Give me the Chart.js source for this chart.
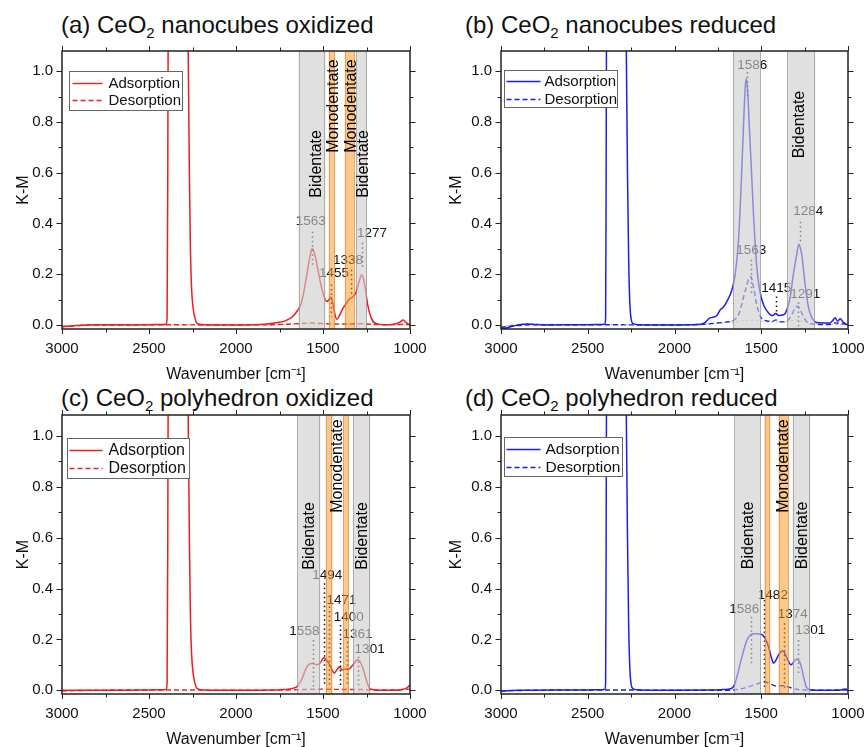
<!DOCTYPE html>
<html><head><meta charset="utf-8">
<script src="https://cdn.jsdelivr.net/npm/chart.js@4.4.1/dist/chart.umd.min.js"></script>
<style>
html,body{margin:0;padding:0;background:#fff;width:866px;height:747px;overflow:hidden;position:relative;font-family:'Liberation Sans',Arial,sans-serif;}
canvas{position:absolute;}
.ttl{position:absolute;font-size:24px;line-height:24px;color:#111;white-space:nowrap;}
.ttl sub{font-size:15px;vertical-align:-5px;line-height:0;}
</style></head><body>
<div class="ttl" style="left:61px;top:13px">(a) CeO<sub>2</sub> nanocubes oxidized</div>
<div class="ttl" style="left:465px;top:13px">(b) CeO<sub>2</sub> nanocubes reduced</div>
<div class="ttl" style="left:61px;top:386px">(c) CeO<sub>2</sub> polyhedron oxidized</div>
<div class="ttl" style="left:465px;top:386px">(d) CeO<sub>2</sub> polyhedron reduced</div>
<canvas id="cA" width="433" height="384" style="left:0;top:0"></canvas>
<canvas id="cB" width="433" height="384" style="left:433px;top:0"></canvas>
<canvas id="cC" width="433" height="385" style="left:0;top:364px"></canvas>
<canvas id="cD" width="433" height="385" style="left:433px;top:364px"></canvas>
<script>
// ---------------- data ----------------
const xMajorTicks = [3000, 2500, 2000, 1500, 1000];
const xMinorTicks = [2750, 2250, 1750, 1250];
const xTickLabels = ['3000', '2500', '2000', '1500', '1000'];
const yMajorTicks = [0, 0.2, 0.4, 0.6, 0.8, 1.0];
const yMinorTicks = [0.1, 0.3, 0.5, 0.7, 0.9];
const yTickLabels = ['0.0', '0.2', '0.4', '0.6', '0.8', '1.0'];
const seriesNames = ['Adsorption', 'Desorption'];

// (a) nanocubes oxidized
const wnA = [3000,2950,2900,2850,2800,2700,2600,2500,2420,2400,2396,2392,2388,2350,2300,2285,2275,2268,2262,2255,2245,2235,2225,2200,2100,2000,1900,1840,1800,1760,1730,1700,1680,1660,1645,1625,1605,1585,1572,1563,1550,1530,1510,1490,1477,1462,1455,1443,1433,1420,1405,1385,1365,1347,1330,1312,1290,1277,1262,1242,1222,1195,1150,1100,1060,1040,1020,1000];
const adsA = [-0.008,-0.004,-0.002,0.000,0.001,0.001,0.000,0.001,0.002,0.004,0.03,0.6,1.6,2.5,2.5,1.6,1.1,0.6,0.3,0.14,0.06,0.025,0.008,0.002,0.000,0.000,0.001,0.003,0.006,0.010,0.013,0.022,0.030,0.044,0.058,0.085,0.150,0.232,0.280,0.300,0.285,0.220,0.152,0.105,0.092,0.104,0.110,0.085,0.046,0.022,0.038,0.066,0.085,0.103,0.110,0.125,0.177,0.198,0.165,0.075,0.026,0.005,0.001,0.002,0.010,0.019,0.008,0.000];
const wnDesA = [3000,2900,2800,2600,2400,2200,2000,1800,1700,1650,1600,1560,1500,1450,1400,1340,1290,1240,1150,1050,1000];
const desA = [-0.006,-0.002,0.000,0.000,0.001,0.000,0.000,0.001,0.003,0.005,0.007,0.008,0.005,0.004,0.003,0.004,0.005,0.003,0.001,0.002,0.001];
const wnBaseA = [3000,2600,2200,1800,1650,1550,1450,1350,1250,1150,1000];
const baseA = [-0.004,0.000,0.001,0.001,0.003,0.004,0.003,0.003,0.004,0.002,0.001];
const bandsA = [[1640,1486],[1467,1431],[1375,1318],[1308,1247]];
const bandTypesA = ['Bidentate','Monodentate','Monodentate','Bidentate'];
const bandTextA = ['Bidentate','Monodentate','Monodentate','Bidentate'];
const peakTextA = ['1563','1455','1338','1277'];

// (b) nanocubes reduced
const wnB = [3000,2970,2940,2900,2850,2800,2700,2600,2500,2420,2400,2397,2394,2390,2350,2300,2287,2278,2271,2264,2257,2249,2238,2200,2100,2000,1900,1845,1820,1800,1780,1757,1736,1719,1700,1669,1650,1631,1617,1602,1592,1586,1578,1570,1560,1545,1526,1506,1487,1458,1438,1415,1400,1371,1352,1333,1314,1294,1284,1275,1265,1246,1227,1208,1180,1103,1085,1074,1060,1044,1030,1000];
const adsB = [-0.016,-0.012,-0.006,0.000,0.004,0.002,0.000,0.001,0.001,0.002,0.004,0.03,0.6,1.6,2.5,2.5,1.6,1.1,0.6,0.25,0.08,0.02,0.005,0.001,0.000,0.000,0.001,0.003,0.012,0.026,0.030,0.036,0.060,0.070,0.090,0.139,0.200,0.335,0.530,0.790,0.940,0.972,0.920,0.800,0.660,0.440,0.230,0.126,0.080,0.047,0.037,0.045,0.037,0.040,0.060,0.112,0.204,0.283,0.318,0.305,0.270,0.152,0.067,0.028,0.010,0.008,0.020,0.028,0.015,0.024,0.012,0.000];
const wnDesB = [3000,2950,2900,2800,2600,2400,2200,2000,1850,1800,1750,1700,1660,1631,1617,1602,1586,1570,1560,1545,1526,1506,1487,1458,1438,1415,1400,1371,1352,1333,1314,1300,1291,1275,1265,1246,1227,1208,1180,1100,1075,1045,1000];
const desB = [-0.010,-0.005,-0.002,0.001,0.000,0.001,0.000,0.000,0.002,0.004,0.008,0.012,0.018,0.040,0.070,0.110,0.150,0.185,0.190,0.150,0.080,0.035,0.020,0.015,0.013,0.020,0.014,0.012,0.015,0.030,0.055,0.070,0.074,0.060,0.045,0.020,0.008,0.004,0.002,0.002,0.008,0.006,0.000];
const wnBaseB = [3000,2950,2900,2850,2800,2600,2400,2200,2000,1850,1750,1700,1650,1600,1550,1500,1450,1400,1350,1300,1250,1200,1100,1000];
const baseB = [-0.006,-0.002,0.002,0.004,0.003,0.002,0.002,0.001,0.001,0.003,0.006,0.009,0.013,0.017,0.019,0.015,0.012,0.012,0.014,0.019,0.012,0.004,0.002,0.001];
const bandsB = [[1663,1502],[1352,1189]];
const bandTypesB = ['Bidentate','Bidentate'];
const bandTextB = ['Bidentate'];
const peakTextB = ['1586','1563','1415','1284','1291'];

// (c) polyhedron oxidized
const wnC = [3000,2900,2800,2600,2500,2420,2400,2396,2392,2388,2350,2300,2285,2275,2268,2262,2255,2245,2235,2225,2200,2100,2000,1900,1800,1750,1700,1670,1650,1624,1596,1575,1558,1538,1515,1500,1494,1481,1461,1448,1436,1420,1404,1393,1376,1351,1328,1301,1274,1251,1232,1210,1150,1100,1050,1020,1010,1000];
const adsC = [0.000,0.000,0.000,0.000,0.001,0.002,0.004,0.03,0.6,1.6,2.5,2.5,1.6,1.1,0.6,0.3,0.14,0.06,0.025,0.008,0.002,0.000,0.000,0.000,0.001,0.002,0.004,0.008,0.014,0.040,0.087,0.104,0.105,0.100,0.108,0.126,0.128,0.120,0.100,0.080,0.067,0.080,0.093,0.080,0.082,0.083,0.100,0.120,0.093,0.040,0.008,0.002,0.000,0.000,0.002,0.008,0.014,0.020];
const wnDesC = [3000,2800,2400,2000,1700,1600,1500,1400,1300,1200,1100,1000];
const desC = [-0.003,0.000,0.001,0.000,0.001,0.003,0.004,0.003,0.003,0.001,0.001,0.004];
const bandsC = [[1649,1515],[1484,1446],[1385,1351],[1328,1228]];
const bandTypesC = ['Bidentate','Monodentate','Monodentate','Bidentate'];
const bandTextC = ['Bidentate','Monodentate','Bidentate'];
const peakTextC = ['1558','1494','1471','1400','1361','1301'];

// (d) polyhedron reduced
const wnD = [3000,2900,2800,2600,2500,2420,2400,2397,2394,2390,2350,2300,2287,2278,2271,2264,2257,2249,2238,2200,2100,2000,1800,1736,1690,1669,1655,1640,1611,1582,1565,1553,1530,1506,1483,1458,1440,1429,1415,1400,1375,1352,1329,1314,1298,1275,1256,1240,1217,1150,1050,1016,1000];
const adsD = [-0.003,0.000,0.000,0.001,0.001,0.002,0.004,0.03,0.6,1.6,2.5,2.5,1.6,1.1,0.6,0.25,0.08,0.02,0.005,0.001,0.000,0.000,0.001,0.002,0.004,0.008,0.020,0.053,0.132,0.198,0.215,0.221,0.222,0.221,0.210,0.171,0.125,0.106,0.118,0.139,0.155,0.126,0.100,0.110,0.122,0.106,0.053,0.012,0.002,0.000,0.000,0.005,0.002];
const wnDesD = [3000,2800,2400,2000,1750,1680,1620,1580,1545,1510,1487,1465,1448,1430,1410,1390,1371,1350,1333,1300,1275,1200,1000];
const desD = [-0.003,0.000,0.001,0.000,0.000,0.000,0.005,0.012,0.020,0.028,0.034,0.030,0.025,0.019,0.016,0.017,0.018,0.014,0.010,0.004,0.001,0.000,0.001];
const bandsD = [[1655,1502],[1481,1448],[1400,1342],[1319,1217]];
const bandTypesD = ['Bidentate','Monodentate','Monodentate','Bidentate'];
const bandTextD = ['Bidentate','Monodentate','Bidentate'];
const peakTextD = ['1586','1482','1374','1301'];

// ---------------- layout / styling ----------------
const FONT = "'Liberation Sans', Arial, sans-serif";
Chart.defaults.font.family = FONT;
Chart.defaults.color = '#111';
const RED = 'rgb(240,28,32)', BLUE = 'rgb(30,30,240)', BASEC = 'rgba(165,205,95,0.85)';

const panels = [
  { id:'cA', L:62, R:410, T:51, B:329, ymin:-0.016, ymax:1.08, color:RED,
    wn:wnA, ads:adsA, wnDes:wnDesA, des:desA, wnBase:wnBaseA, base:baseA,
    bands:bandsA, bandTypes:bandTypesA, bandText:bandTextA,
    bandTextPos:[[1537,0.635],[1441,0.863],[1335,0.863],[1265,0.635]],
    peakText:peakTextA,
    peakPos:[{lx:1563,tx:1571,ty:0.407,top:0.367,bot:0.237},{lx:1452,tx:1437,ty:0.202,top:0.159,bot:0.033},{lx:1341,tx:1356,ty:0.253,top:0.218,bot:0.111},{lx:1276,tx:1218,ty:0.36,top:0.324,bot:0.218}],
    legend:{dx:7,dy:20,w:113,h:39,l1:12,l2:29,s0:3,s1:33,tx:39,fs:15} },
  { id:'cB', L:68, R:415, T:51, B:329, ymin:-0.016, ymax:1.08, color:BLUE,
    wn:wnB, ads:adsB, wnDes:wnDesB, des:desB, wnBase:wnBaseB, base:baseB,
    bands:bandsB, bandTypes:bandTypesB, bandText:bandTextB,
    bandTextPos:[[1279,0.79]],
    peakText:peakTextB,
    peakPos:[{lx:1585,tx:1552,ty:1.024,top:0.997,bot:0.899},{lx:1560,tx:1557,ty:0.296,top:0.257,bot:0.127},{lx:1414,tx:1413,ty:0.145,top:0.112,bot:0.04},{lx:1279,tx:1229,ty:0.447,top:0.407,bot:0.329},{lx:1290,tx:1246,ty:0.122,top:0.088,bot:-0.005}],
    legend:{dx:3,dy:19,w:113,h:37,l1:11,l2:29,s0:2,s1:36,tx:40,fs:15} },
  { id:'cC', L:62, R:410, T:51, B:330, ymin:-0.015, ymax:1.083, color:RED,
    wn:wnC, ads:adsC, wnDes:wnDesC, des:desC, wnBase:null, base:null,
    bands:bandsC, bandTypes:bandTypesC, bandText:bandTextC,
    bandTextPos:[[1577,0.607],[1414,0.882],[1270,0.607]],
    peakText:peakTextC,
    peakPos:[{lx:1557,tx:1607,ty:0.23,top:0.198,bot:0.014},{lx:1494,tx:1476,ty:0.453,top:0.421,bot:0.014},{lx:1466,tx:1394,ty:0.352,top:0.329,bot:0.014},{lx:1400,tx:1352,ty:0.287,top:0.257,bot:0.014},{lx:1361,tx:1302,ty:0.221,top:0.191,bot:0.014},{lx:1299,tx:1232,ty:0.161,top:0.132,bot:0.014}],
    legend:{dx:5,dy:23,w:122,h:40,l1:12,l2:30,s0:2,s1:35,tx:41,fs:16} },
  { id:'cD', L:68, R:415, T:51, B:330, ymin:-0.015, ymax:1.083, color:BLUE,
    wn:wnD, ads:adsD, wnDes:wnDesD, des:desD, wnBase:null, base:null,
    bands:bandsD, bandTypes:bandTypesD, bandText:bandTextD,
    bandTextPos:[[1573,0.609],[1371,0.882],[1260,0.609]],
    peakText:peakTextD,
    peakPos:[{lx:1559,tx:1598,ty:0.32,top:0.289,bot:0.106},{lx:1487,tx:1433,ty:0.375,top:0.355,bot:0.001},{lx:1371,tx:1318,ty:0.3,top:0.263,bot:0.0},{lx:1291,tx:1217,ty:0.234,top:0.198,bot:0.067}],
    legend:{dx:3,dy:22,w:118,h:39,l1:12,l2:30,s0:2,s1:36,tx:41,fs:15.5} }
];

const decor = {
  id: 'decor',
  afterDatasetsDraw(chart, args, o) {
    const p = o.panel; if (!p) return;
    const {ctx, chartArea: ca, scales: {x, y}} = chart;
    ctx.save();
    ctx.beginPath(); ctx.rect(ca.left, ca.top, ca.right - ca.left, ca.bottom - ca.top); ctx.clip();
    // peak markers
    ctx.textAlign = 'center'; ctx.textBaseline = 'middle';
    p.peakText.forEach((t, i) => {
      const q = p.peakPos[i];
      const px = Math.round(x.getPixelForValue(q.lx)) + 0.5;
      ctx.save();
      ctx.setLineDash([1.5, 3]); ctx.lineWidth = 1.5; ctx.strokeStyle = '#111';
      ctx.beginPath(); ctx.moveTo(px, y.getPixelForValue(q.top)); ctx.lineTo(px, y.getPixelForValue(q.bot)); ctx.stroke();
      ctx.restore();
      ctx.font = '13.5px ' + FONT; ctx.fillStyle = '#111';
      ctx.fillText(t, x.getPixelForValue(q.tx), y.getPixelForValue(q.ty));
    });
    // bands (semi-transparent, drawn over curves and labels)
    p.bands.forEach((b, i) => {
      const x1 = x.getPixelForValue(b[0]), x2 = x.getPixelForValue(b[1]);
      const l = Math.min(x1, x2), w = Math.abs(x2 - x1);
      const mono = p.bandTypes[i] === 'Monodentate';
      ctx.fillStyle = mono ? 'rgba(250,155,46,0.55)' : 'rgba(205,205,205,0.62)';
      ctx.fillRect(l, ca.top, w, ca.bottom - ca.top);
      ctx.strokeStyle = mono ? 'rgba(215,125,45,0.55)' : 'rgba(130,130,130,0.55)';
      ctx.lineWidth = 1;
      ctx.beginPath();
      ctx.moveTo(Math.round(l) + 0.5, ca.top); ctx.lineTo(Math.round(l) + 0.5, ca.bottom);
      ctx.moveTo(Math.round(l + w) - 0.5, ca.top); ctx.lineTo(Math.round(l + w) - 0.5, ca.bottom);
      ctx.stroke();
    });
    // band names
    ctx.font = '16px ' + FONT; ctx.fillStyle = '#000';
    p.bandText.forEach((t, i) => {
      const pos = p.bandTextPos[i];
      ctx.save();
      ctx.translate(x.getPixelForValue(pos[0]), y.getPixelForValue(pos[1]));
      ctx.rotate(-Math.PI / 2);
      ctx.fillText(t, 0, 0);
      ctx.restore();
    });
    ctx.restore();

    // frame and ticks on all four sides
    ctx.save();
    ctx.strokeStyle = '#222'; ctx.lineWidth = 1;
    const tick = (x1, y1, x2, y2) => { ctx.beginPath(); ctx.moveTo(x1, y1); ctx.lineTo(x2, y2); ctx.stroke(); };
    xMajorTicks.concat(xMinorTicks).forEach(v => {
      const len = xMajorTicks.includes(v) ? 5 : 3.5;
      const px = Math.round(x.getPixelForValue(v)) + 0.5;
      tick(px, ca.bottom, px, ca.bottom + len);
      tick(px, ca.top, px, ca.top - len);
    });
    yMajorTicks.concat(yMinorTicks).forEach(v => {
      const len = yMajorTicks.includes(v) ? 5.5 : 3.5;
      const py = Math.round(y.getPixelForValue(v)) + 0.5;
      tick(ca.left, py, ca.left - len, py);
      tick(ca.right, py, ca.right + len, py);
    });
    ctx.lineWidth = 1.5;
    ctx.strokeRect(ca.left, ca.top, ca.right - ca.left, ca.bottom - ca.top);
    ctx.restore();

    // legend box
    const lg = p.legend;
    const bx = ca.left + lg.dx + 0.5, by = ca.top + lg.dy + 0.5;
    ctx.save();
    ctx.fillStyle = '#fff'; ctx.fillRect(bx, by, lg.w, lg.h);
    ctx.strokeStyle = '#666'; ctx.lineWidth = 1; ctx.strokeRect(bx, by, lg.w, lg.h);
    ctx.font = lg.fs + 'px ' + FONT; ctx.textAlign = 'left'; ctx.textBaseline = 'middle';
    const rows = [lg.l1, lg.l2];
    chart.data.datasets.filter(d => seriesNames.includes(d.label)).forEach((d, i) => {
      const yy = by + rows[i];
      ctx.strokeStyle = d.borderColor; ctx.lineWidth = 1.4;
      ctx.setLineDash(d.borderDash || []);
      ctx.beginPath(); ctx.moveTo(bx + lg.s0, yy); ctx.lineTo(bx + lg.s1, yy); ctx.stroke();
      ctx.setLineDash([]);
      ctx.fillStyle = '#111';
      ctx.fillText(d.label, bx + lg.tx, yy + 0.5);
    });
    ctx.restore();
  }
};

const pts = (xs, ys) => xs.map((v, i) => ({x: v, y: ys[i]}));
const approx = (arr, v) => arr.findIndex(a => Math.abs(a - v) < 1e-9);

panels.forEach(p => {
  const cv = document.getElementById(p.id);
  const W = cv.width, H = cv.height;
  const datasets = [
    {label: seriesNames[0], data: pts(p.wn, p.ads), borderColor: p.color, borderWidth: 1.5},
    {label: seriesNames[1], data: pts(p.wnDes, p.des), borderColor: p.color, borderWidth: 1.4, borderDash: [5, 3]}
  ];
  if (p.wnBase) datasets.push({label: 'Baseline', data: pts(p.wnBase, p.base), borderColor: BASEC, borderWidth: 1, borderDash: [3, 2]});
  datasets.forEach(d => Object.assign(d, {pointRadius: 0, fill: false, cubicInterpolationMode: 'monotone', clip: 0}));
  new Chart(cv, {
    type: 'line',
    data: {datasets},
    plugins: [decor],
    options: {
      responsive: false, animation: false, events: [],
      layout: {padding: {left: 0, top: p.T, right: W - p.R, bottom: 0}},
      plugins: {legend: {display: false}, tooltip: {enabled: false}, decor: {panel: p}},
      scales: {
        x: {
          type: 'linear', min: 1000, max: 3000, reverse: true,
          afterBuildTicks: s => { s.ticks = xMajorTicks.concat(xMinorTicks).sort((a, b) => a - b).map(v => ({value: v})); },
          afterFit: s => { s.height = H - p.B; },
          ticks: {autoSkip: false, maxRotation: 0, padding: 5, font: {size: 15}, color: '#111',
                  callback: v => { const i = approx(xMajorTicks, v); return i >= 0 ? xTickLabels[i] : ''; }},
          grid: {display: true, drawOnChartArea: false, drawTicks: true, tickLength: 6, color: 'rgba(0,0,0,0)'},
          border: {display: false},
          title: {display: true, text: 'Wavenumber [cm⁻¹]', font: {size: 16}, color: '#111', padding: 0}
        },
        y: {
          type: 'linear', min: p.ymin, max: p.ymax,
          afterBuildTicks: s => { s.ticks = yMajorTicks.concat(yMinorTicks).sort((a, b) => a - b).map(v => ({value: v})); },
          afterFit: s => { s.width = p.L; },
          ticks: {autoSkip: false, padding: 3, font: {size: 15}, color: '#111',
                  callback: v => { const i = approx(yMajorTicks, v); return i >= 0 ? yTickLabels[i] : ''; }},
          grid: {display: true, drawOnChartArea: false, drawTicks: true, tickLength: 6, color: 'rgba(0,0,0,0)'},
          border: {display: false},
          title: {display: true, text: 'K-M', font: {size: 16}, color: '#111', padding: {top: 14, bottom: 0}}
        }
      }
    }
  });
});
</script>
</body></html>
